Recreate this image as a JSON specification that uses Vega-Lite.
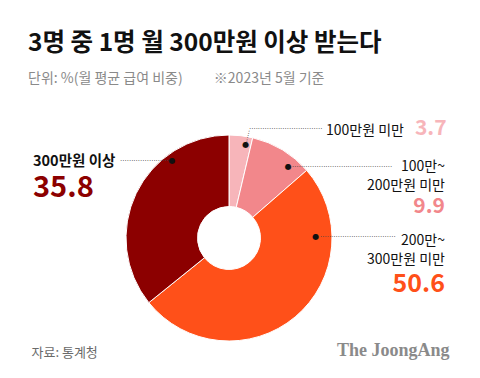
{
  "$schema": "https://vega.github.io/schema/vega-lite/v6.json",
  "autosize": "none",
  "width": 440,
  "height": 206,
  "padding": {"left": 9, "right": 31, "top": 135, "bottom": 37},
  "background": "white",
  "config": {"view": {"stroke": null}},
  "title": {
    "text": "3명 중 1명 월 300만원 이상 받는다",
    "subtitle": "단위: %(월 평균 급여 비중)　　 ※2023년 5월 기준",
    "anchor": "start",
    "frame": "group",
    "dx": 19,
    "offset": 31,
    "font": "Noto Sans CJK KR",
    "fontSize": 24.5,
    "fontWeight": "bold",
    "color": "#111111",
    "subtitleFont": "Noto Sans CJK KR",
    "subtitleFontSize": 14,
    "subtitleColor": "#8a8a8a",
    "subtitlePadding": 16
  },
  "data": {
    "values": [
      {"id": 1, "category": "100만원 미만", "label": "100만원 미만", "value": 3.7},
      {"id": 2, "category": "100만~200만원 미만", "label": "100만~\n200만원 미만", "value": 9.9},
      {"id": 3, "category": "200만~300만원 미만", "label": "200만~\n300만원 미만", "value": 50.6},
      {"id": 4, "category": "300만원 이상", "label": "300만원 이상", "value": 35.8}
    ]
  },
  "layer": [
    {
      "mark": {"type": "point", "opacity": 0},
      "encoding": {
        "x": {
          "datum": 0,
          "type": "quantitative",
          "axis": {
            "title": "The JoongAng",
            "labels": false, "ticks": false, "domain": false, "grid": false,
            "titleAnchor": "end",
            "titleFont": "Liberation Serif",
            "titleFontSize": 18,
            "titleFontWeight": "bold",
            "titleColor": "#8a8a8a",
            "titleBaseline": "alphabetic",
            "titleY": 14
          }
        },
        "y": {
          "datum": 0,
          "type": "quantitative",
          "axis": {
            "title": "자료: 통계청",
            "labels": false, "ticks": false, "domain": false, "grid": false,
            "titleAngle": 0,
            "titleAlign": "left",
            "titleBaseline": "alphabetic",
            "titleX": 22,
            "titleY": 221,
            "titleFont": "Noto Sans CJK KR",
            "titleFontSize": 13,
            "titleFontWeight": "normal",
            "titleColor": "#6a6a6a"
          }
        }
      }
    },
    {
      "encoding": {
        "theta": {"field": "value", "type": "quantitative", "stack": true},
        "order": {"field": "id", "type": "quantitative"}
      },
      "layer": [
        {
          "mark": {"type": "arc", "innerRadius": 31.5, "outerRadius": 103, "stroke": "white", "strokeWidth": 1},
          "encoding": {
            "color": {
              "field": "category",
              "type": "nominal",
              "scale": {
                "domain": ["100만원 미만", "100만~200만원 미만", "200만~300만원 미만", "300만원 이상"],
                "range": ["#F7B5BA", "#F2878B", "#FF5019", "#8C0000"]
              },
              "legend": null
            }
          }
        },
        {
          "mark": {
            "type": "text",
            "radius": 92,
            "font": "DejaVu Sans",
            "fontSize": 7,
            "color": "#444444",
            "align": "left",
            "baseline": "middle",
            "text": {"expr": "pad('', [33, 45, 34, 22][datum.id - 1], '·')"},
            "dx": {"expr": "[9.3, 15.4, 31.9, -26][datum.id - 1]"},
            "dy": {"expr": "[-17.3, 7.7, -71.2, -37][datum.id - 1]"}
          }
        },
        {
          "mark": {
            "type": "text",
            "radius": 92,
            "font": "DejaVu Sans",
            "fontSize": 7,
            "color": "#444444",
            "align": "left",
            "baseline": "middle",
            "angle": 103,
            "text": {"expr": "datum.id == 1 ? pad('', 6, '·') : ''"},
            "dx": -18.3,
            "dy": -5.3
          }
        },
        {
          "mark": {
            "type": "text",
            "radius": 92,
            "font": "DejaVu Sans",
            "fontSize": 8,
            "color": "#111111",
            "align": "center",
            "baseline": "middle",
            "dx": {"expr": "[6, 11.7, 27.6, 26][datum.id - 1]"},
            "dy": {"expr": "[-1.3, 7.7, -71.2, -37][datum.id - 1]"}
          },
          "encoding": {"text": {"value": "●"}}
        },
        {
          "mark": {
            "type": "text",
            "radius": 92,
            "font": "Noto Sans CJK KR",
            "fontSize": {"expr": "datum.id == 4 ? 14.5 : 14"},
            "fontWeight": {"expr": "datum.id == 4 ? 'bold' : 'normal'"},
            "color": "#111111",
            "lineBreak": "\n",
            "lineHeight": 19,
            "baseline": "alphabetic",
            "align": {"expr": "datum.id == 1 || datum.id == 4 ? 'left' : 'right'"},
            "dx": {"expr": "[86.3, 168.4, 156.9, -113][datum.id - 1]"},
            "dy": {"expr": "[-11.6, 11.7, -63.5, -32.3][datum.id - 1]"}
          },
          "encoding": {"text": {"field": "label", "type": "nominal"}}
        },
        {
          "mark": {
            "type": "text",
            "radius": 92,
            "font": "Noto Sans CJK KR",
            "fontSize": {"expr": "[21, 21, 25, 29][datum.id - 1]"},
            "fontWeight": "bold",
            "baseline": "alphabetic",
            "align": {"expr": "datum.id == 1 || datum.id == 4 ? 'left' : 'right'"},
            "dx": {"expr": "[175.3, 168.4, 156.9, -113][datum.id - 1]"},
            "dy": {"expr": "[-11.6, 53.7, -16.5, -1.3][datum.id - 1]"}
          },
          "encoding": {
            "text": {"field": "value", "type": "quantitative", "format": ".1f"},
            "color": {"field": "category", "type": "nominal", "legend": null}
          }
        }
      ]
    }
  ]
}
